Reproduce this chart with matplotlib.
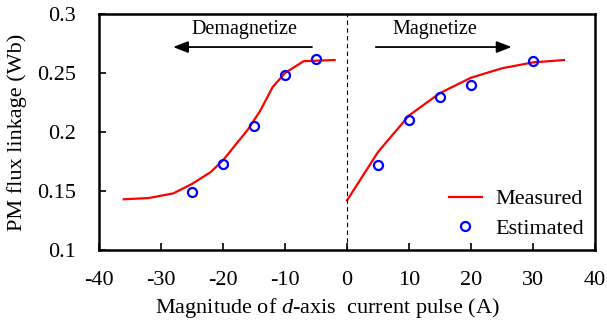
import matplotlib
matplotlib.use("Agg")
import matplotlib.pyplot as plt

plt.rcParams["font.family"] = ["Liberation Serif", "DejaVu Serif"]
plt.rcParams["mathtext.fontset"] = "custom"
plt.rcParams["mathtext.it"] = "Liberation Serif:italic"
plt.rcParams["mathtext.rm"] = "Liberation Serif"
plt.rcParams["axes.unicode_minus"] = False

# measured curve, demagnetize branch (negative current)
meas_x_neg = [-36, -32, -28, -25, -22, -20, -16, -14, -12, -10, -7, -2]
meas_y_neg = [0.143, 0.144, 0.148, 0.156, 0.166, 0.176, 0.202, 0.218, 0.238, 0.250, 0.260, 0.261]
# measured curve, magnetize branch
meas_x_pos = [0, 5, 10, 15, 20, 25, 30, 35]
meas_y_pos = [0.142, 0.183, 0.214, 0.233, 0.246, 0.254, 0.259, 0.261]
# estimated points
est_x = [-25, -20, -15, -10, -5, 5, 10, 15, 20, 30]
est_y = [0.149, 0.173, 0.205, 0.248, 0.262, 0.172, 0.210, 0.230, 0.240, 0.260]

fig = plt.figure(figsize=(6.07, 3.22), dpi=100)
ax = fig.add_axes([99 / 607, 1 - 250 / 322, 496 / 607, 236 / 322])

ax.plot(meas_x_neg, meas_y_neg, color="red", lw=1.6, label="Measured")
ax.plot(meas_x_pos, meas_y_pos, color="red", lw=1.6)
ax.plot(est_x, est_y, ls="none", marker="o", ms=6.5, mfc="none", mec="blue",
        mew=1.6, label="Estimated")
ax.axvline(0, color="black", lw=0.8, ls=(0, (4, 3)))

# arrows
ax.annotate("", xy=(-28.5, 0.272), xytext=(-5.2, 0.272),
            arrowprops=dict(arrowstyle="-|>,head_length=0.9,head_width=0.35", color="black", lw=1.3))
ax.text(-16.5, 0.2865, "Demagnetize", ha="center", va="center", fontsize=14.5)
ax.annotate("", xy=(27, 0.272), xytext=(4.2, 0.272),
            arrowprops=dict(arrowstyle="-|>,head_length=0.9,head_width=0.35", color="black", lw=1.3))
ax.text(14.2, 0.2865, "Magnetize", ha="center", va="center", fontsize=14.5)

ax.set_xlim(-40, 40)
ax.set_ylim(0.1, 0.3)
ax.set_xticks([-40, -30, -20, -10, 0, 10, 20, 30, 40])
ax.set_yticks([0.1, 0.15, 0.2, 0.25, 0.3])
ax.set_yticklabels(["0.1", "0.15", "0.2", "0.25", "0.3"])
ax.tick_params(direction="in", length=5, width=1.2, labelsize=16)
ax.tick_params(axis="y", pad=16.5)
ax.tick_params(axis="x", pad=15)
for s in ax.spines.values():
    s.set_linewidth(1.8)

ax.set_xlabel("Magnitude of $d$-axis  current pulse (A)", fontsize=16)
ax.xaxis.set_label_coords((327 - 99) / 496, -46 / 236)
ax.set_ylabel("PM flux linkage (Wb)", fontsize=16)
ax.yaxis.set_label_coords(-72 / 496, 0.5)

ax.legend(loc="lower right", frameon=False, fontsize=16, handlelength=1.5,
          borderaxespad=0.1, labelspacing=0.4, handletextpad=0.6)

fig.savefig("out.png", dpi=100)
